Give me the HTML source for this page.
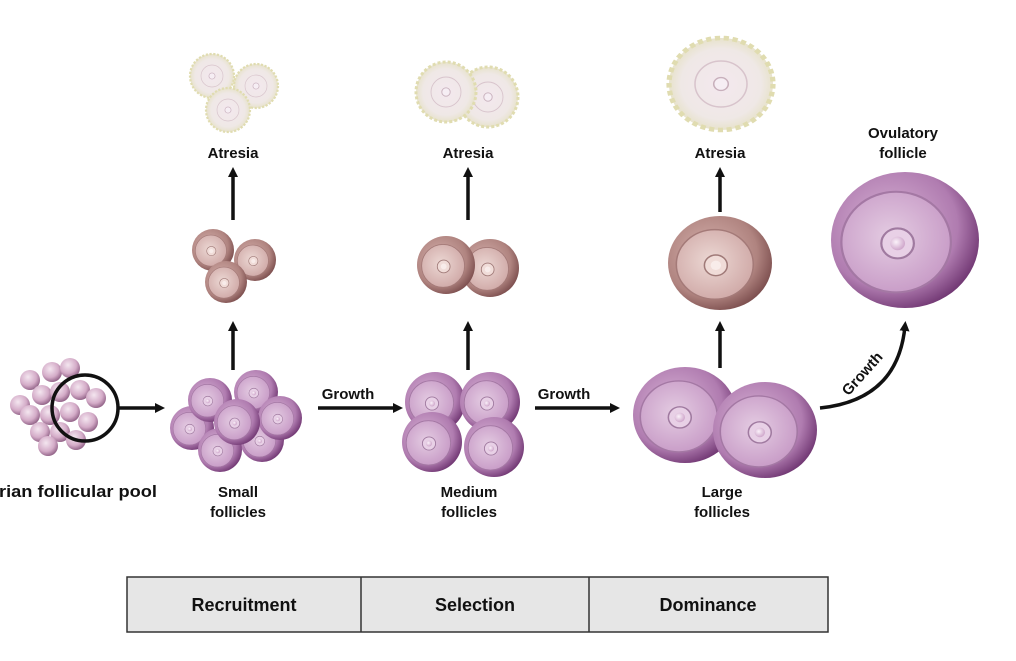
<!DOCTYPE html>
<html><head><style>
body{margin:0;background:#fff;}
svg text{font-family:"Liberation Sans",sans-serif;font-weight:bold;fill:#111;}
</style></head><body>
<svg width="1016" height="656" viewBox="0 0 1016 656" xmlns="http://www.w3.org/2000/svg">
<defs>
<radialGradient id="pool" cx="0.4" cy="0.35" r="0.7"><stop offset="0" stop-color="#f4e6f0"/><stop offset="0.6" stop-color="#d4acc8"/><stop offset="1" stop-color="#8a5a80"/></radialGradient>
<radialGradient id="pur" cx="0.4" cy="0.4" r="0.65"><stop offset="0" stop-color="#d9b4d6"/><stop offset="0.7" stop-color="#b07cb0"/><stop offset="1" stop-color="#6e3470"/></radialGradient>
<radialGradient id="purIn" cx="0.45" cy="0.45" r="0.6"><stop offset="0" stop-color="#e4cce2"/><stop offset="1" stop-color="#c79ac6"/></radialGradient>
<radialGradient id="brn" cx="0.4" cy="0.4" r="0.65"><stop offset="0" stop-color="#d6b2ae"/><stop offset="0.7" stop-color="#b08480"/><stop offset="1" stop-color="#7a4c4c"/></radialGradient>
<radialGradient id="brnIn" cx="0.45" cy="0.45" r="0.6"><stop offset="0" stop-color="#ecd8d4"/><stop offset="1" stop-color="#cfa8a6"/></radialGradient>
<radialGradient id="atr" cx="0.5" cy="0.5" r="0.55"><stop offset="0" stop-color="#f3e8ee"/><stop offset="0.7" stop-color="#efe8e6"/><stop offset="1" stop-color="#e4e0c0"/></radialGradient>
<radialGradient id="oo" cx="0.4" cy="0.4" r="0.6"><stop offset="0" stop-color="#fbf2fa"/><stop offset="1" stop-color="#d0a8cc"/></radialGradient>
<marker id="ah" markerWidth="10" markerHeight="10" refX="5" refY="5" orient="auto" markerUnits="userSpaceOnUse" viewBox="0 0 10 10"><path d="M0,0 L10,5 L0,10 Z" fill="#111"/></marker>
<g id="fp"><circle r="1" fill="url(#pur)"/><circle cx="-0.12" cy="0.03" r="0.74" fill="url(#purIn)" stroke="#a478a4" stroke-width="0.03"/><circle cx="-0.1" cy="0.05" r="0.22" fill="#e8d0e6" stroke="#a07aa0" stroke-width="0.03"/><circle cx="-0.1" cy="0.05" r="0.1" fill="url(#oo)"/></g>
<g id="fb"><circle r="1" fill="url(#brn)"/><circle cx="-0.1" cy="0.03" r="0.74" fill="url(#brnIn)" stroke="#a47a78" stroke-width="0.03"/><circle cx="-0.08" cy="0.05" r="0.22" fill="#f0dcd8" stroke="#a07a78" stroke-width="0.03"/><circle cx="-0.08" cy="0.05" r="0.1" fill="#f8ecea"/></g>
<g id="fa"><circle r="1" fill="url(#atr)" stroke="#e0dcb0" stroke-width="0.1" stroke-dasharray="0.1 0.07"/><circle r="0.5" fill="none" stroke="#d8c4cc" stroke-width="0.03"/><circle r="0.14" fill="#f6eef4" stroke="#c8b0bc" stroke-width="0.03"/></g>
</defs>

<g>
<circle cx="30" cy="380" r="10" fill="url(#pool)"/><circle cx="52" cy="372" r="10" fill="url(#pool)"/><circle cx="70" cy="368" r="10" fill="url(#pool)"/>
<circle cx="20" cy="405" r="10" fill="url(#pool)"/><circle cx="42" cy="395" r="10" fill="url(#pool)"/><circle cx="60" cy="392" r="10" fill="url(#pool)"/><circle cx="80" cy="390" r="10" fill="url(#pool)"/><circle cx="96" cy="398" r="10" fill="url(#pool)"/>
<circle cx="30" cy="415" r="10" fill="url(#pool)"/><circle cx="50" cy="415" r="10" fill="url(#pool)"/><circle cx="70" cy="412" r="10" fill="url(#pool)"/><circle cx="88" cy="422" r="10" fill="url(#pool)"/>
<circle cx="40" cy="432" r="10" fill="url(#pool)"/><circle cx="60" cy="432" r="10" fill="url(#pool)"/><circle cx="76" cy="440" r="10" fill="url(#pool)"/><circle cx="48" cy="446" r="10" fill="url(#pool)"/>
<circle cx="85" cy="408" r="33" fill="none" stroke="#111" stroke-width="3.5"/>
</g>
<line x1="118" y1="408" x2="160" y2="408" stroke="#111" stroke-width="3.5" marker-end="url(#ah)"/>

<use href="#fp" transform="translate(192,428) scale(22)"/>
<use href="#fp" transform="translate(262,440) scale(22)"/>
<use href="#fp" transform="translate(210,400) scale(22)"/>
<use href="#fp" transform="translate(256,392) scale(22)"/>
<use href="#fp" transform="translate(220,450) scale(22)"/>
<use href="#fp" transform="translate(280,418) scale(22)"/>
<use href="#fp" transform="translate(237,422) scale(23)"/>
<text x="238" y="497" font-size="15" text-anchor="middle">Small</text>
<text x="238" y="517" font-size="15" text-anchor="middle">follicles</text>
<line x1="233" y1="370" x2="233" y2="326" stroke="#111" stroke-width="3.5" marker-end="url(#ah)"/>
<use href="#fb" transform="translate(213,250) scale(21)"/>
<use href="#fb" transform="translate(255,260) scale(21)"/>
<use href="#fb" transform="translate(226,282) scale(21)"/>
<line x1="233" y1="220" x2="233" y2="172" stroke="#111" stroke-width="3.5" marker-end="url(#ah)"/>
<text x="233" y="158" font-size="15" text-anchor="middle">Atresia</text>
<use href="#fa" transform="translate(212,76) scale(22)"/>
<use href="#fa" transform="translate(256,86) scale(22)"/>
<use href="#fa" transform="translate(228,110) scale(22)"/>

<line x1="318" y1="408" x2="398" y2="408" stroke="#111" stroke-width="3.5" marker-end="url(#ah)"/>
<text x="348" y="399" font-size="15" text-anchor="middle">Growth</text>

<use href="#fp" transform="translate(435,402) scale(30)"/>
<use href="#fp" transform="translate(490,402) scale(30)"/>
<use href="#fp" transform="translate(432,442) scale(30)"/>
<use href="#fp" transform="translate(494,447) scale(30)"/>
<text x="469" y="497" font-size="15" text-anchor="middle">Medium</text>
<text x="469" y="517" font-size="15" text-anchor="middle">follicles</text>
<line x1="468" y1="370" x2="468" y2="326" stroke="#111" stroke-width="3.5" marker-end="url(#ah)"/>
<use href="#fb" transform="translate(490,268) scale(29)"/>
<use href="#fb" transform="translate(446,265) scale(29)"/>
<line x1="468" y1="220" x2="468" y2="172" stroke="#111" stroke-width="3.5" marker-end="url(#ah)"/>
<text x="468" y="158" font-size="15" text-anchor="middle">Atresia</text>
<use href="#fa" transform="translate(488,97) scale(30)"/>
<use href="#fa" transform="translate(446,92) scale(30)"/>

<line x1="535" y1="408" x2="615" y2="408" stroke="#111" stroke-width="3.5" marker-end="url(#ah)"/>
<text x="564" y="399" font-size="15" text-anchor="middle">Growth</text>

<use href="#fp" transform="translate(685,415) scale(52,48)"/>
<use href="#fp" transform="translate(765,430) scale(52,48)"/>
<text x="722" y="497" font-size="15" text-anchor="middle">Large</text>
<text x="722" y="517" font-size="15" text-anchor="middle">follicles</text>
<line x1="720" y1="368" x2="720" y2="326" stroke="#111" stroke-width="3.5" marker-end="url(#ah)"/>
<use href="#fb" transform="translate(720,263) scale(52,47)"/>
<line x1="720" y1="212" x2="720" y2="172" stroke="#111" stroke-width="3.5" marker-end="url(#ah)"/>
<text x="720" y="158" font-size="15" text-anchor="middle">Atresia</text>
<use href="#fa" transform="translate(721,84) scale(52,46)"/>

<use href="#fp" transform="translate(905,240) scale(74,68)"/>
<text x="903" y="138" font-size="15" text-anchor="middle">Ovulatory</text>
<text x="903" y="158" font-size="15" text-anchor="middle">follicle</text>
<path d="M820,408 Q898,400 905,326" fill="none" stroke="#111" stroke-width="3.5" marker-end="url(#ah)"/>
<text x="0" y="0" font-size="15" text-anchor="middle" transform="translate(866,377) rotate(-48)">Growth</text>

<rect x="127" y="577" width="701" height="55" fill="#e6e6e6" stroke="#333" stroke-width="1.5"/>
<line x1="361" y1="577" x2="361" y2="632" stroke="#333" stroke-width="1.5"/>
<line x1="589" y1="577" x2="589" y2="632" stroke="#333" stroke-width="1.5"/>
<text x="244" y="611" font-size="18" text-anchor="middle">Recruitment</text>
<text x="475" y="611" font-size="18" text-anchor="middle">Selection</text>
<text x="708" y="611" font-size="18" text-anchor="middle">Dominance</text>
<text x="-1" y="497" font-size="16.5" textLength="158" lengthAdjust="spacingAndGlyphs">rian follicular pool</text>
</svg>
</body></html>
